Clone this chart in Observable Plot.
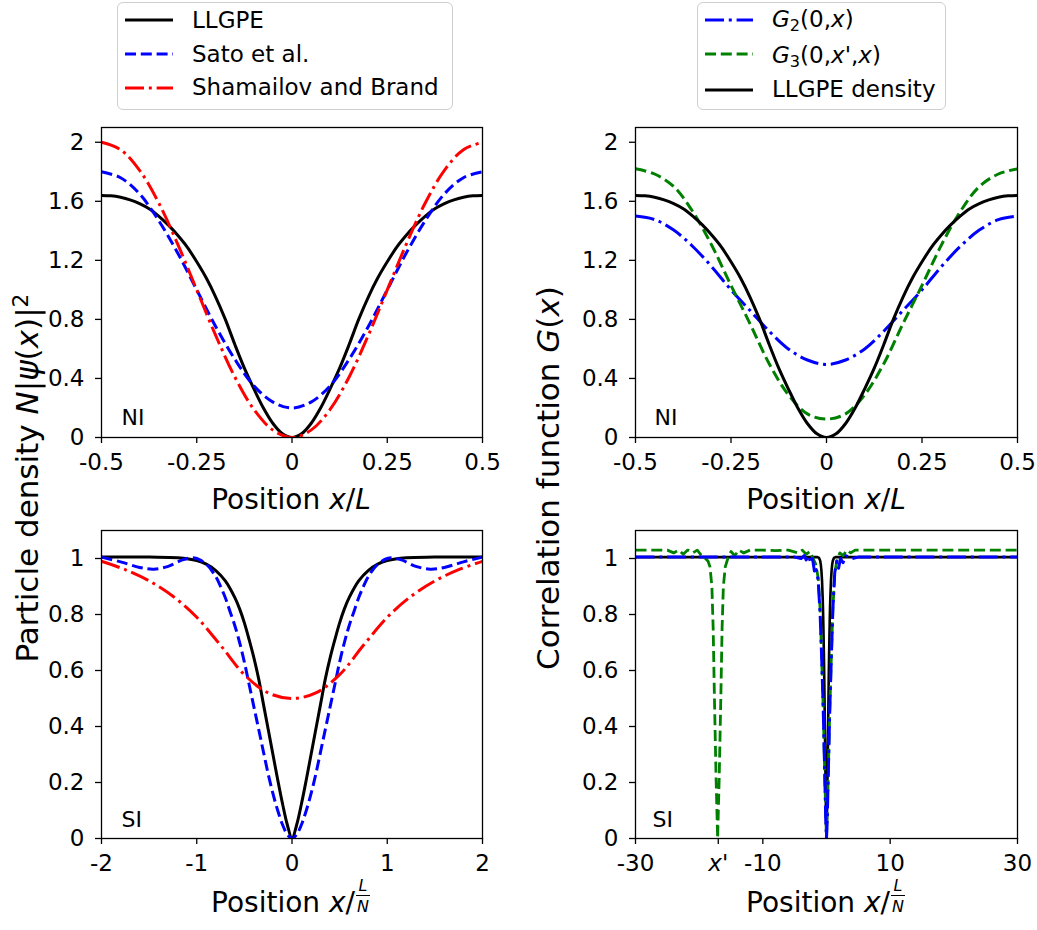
<!DOCTYPE html>
<html><head><meta charset="utf-8">
<script src="https://cdn.jsdelivr.net/npm/d3@7"></script>
<script src="https://cdn.jsdelivr.net/npm/@observablehq/plot@0.6"></script>
<style>
body{margin:0;background:#fff;}
#fig{position:relative;width:1037px;height:930px;background:#fff;font-family:"DejaVu Sans",sans-serif;color:#000;overflow:hidden}
.legend{position:absolute;border:1px solid #cfcfcf;border-radius:6px;background:#fff;box-sizing:border-box}
.lt{position:absolute;font-size:23px;line-height:26px;white-space:nowrap}
.xl{position:absolute;width:400px;text-align:center;font-size:28px;line-height:28px;white-space:nowrap}
.yl{position:absolute;width:600px;height:34px;text-align:center;font-size:31px;line-height:34px;white-space:nowrap;transform:rotate(-90deg)}
.sub{font-size:0.7em;position:relative;top:0.25em}
.sup{font-size:0.7em;position:relative;top:-0.45em}
.frac{display:inline-block;position:relative;width:16px;height:10px;font-size:16px;line-height:16px}
.frac .n{position:absolute;left:0;top:-24px;width:16px;text-align:center}
.frac .d{position:absolute;left:0;top:-3px;width:16px;text-align:center}
.frac .bar{position:absolute;left:1px;top:-7px;width:14px;height:1px;background:#000}
</style></head><body><div id="fig"></div>
<script>
// ---------- data ----------
// NI regime, position x/L
const niX = [-0.5,-0.45,-0.4,-0.35,-0.3,-0.25,-0.2,-0.15,-0.1,-0.05,0,0.05,0.1,0.15,0.2,0.25,0.3,0.35,0.4,0.45,0.5];
const niXFine = [-0.5,-0.475,-0.45,-0.425,-0.4,-0.375,-0.35,-0.325,-0.3,-0.275,-0.25,-0.225,-0.2,-0.175,-0.15,-0.125,-0.1,-0.075,-0.05,-0.025,0,
                 0.025,0.05,0.075,0.1,0.125,0.15,0.175,0.2,0.225,0.25,0.275,0.3,0.325,0.35,0.375,0.4,0.425,0.45,0.475,0.5];
const llgpeNI = [1.64,1.637,1.627,1.61,1.585,1.55,1.50,1.44,1.37,1.29,1.19,1.08,0.95,0.80,0.63,0.47,0.33,0.20,0.095,0.025,0,
                 0.025,0.095,0.20,0.33,0.47,0.63,0.80,0.95,1.08,1.19,1.29,1.37,1.44,1.50,1.55,1.585,1.61,1.627,1.637,1.64];
const satoNI = [1.8,1.76,1.65,1.47,1.25,1.0,0.75,0.53,0.35,0.24,0.2,0.24,0.35,0.53,0.75,1.0,1.25,1.47,1.65,1.76,1.8];
const shamNI = [2.0,1.95,1.81,1.59,1.31,1.0,0.69,0.41,0.19,0.05,0,0.05,0.19,0.41,0.69,1.0,1.31,1.59,1.81,1.95,2.0];
const g2NI = [1.5,1.476,1.405,1.294,1.155,1.0,0.86,0.72,0.6,0.525,0.495,0.525,0.6,0.72,0.86,1.0,1.155,1.294,1.405,1.476,1.5];
const g3NI = [1.82,1.785,1.70,1.53,1.30,1.03,0.77,0.50,0.29,0.16,0.125,0.16,0.29,0.50,0.77,1.03,1.30,1.53,1.70,1.785,1.82];

// SI regime, position x/(L/N)
const siXBlack = [-2,-1.5,-1.2,-1,-0.9,-0.8,-0.7,-0.6,-0.55,-0.5,-0.45,-0.4,-0.35,-0.3,-0.25,-0.2,-0.15,-0.1,-0.05,0,
                  0.05,0.1,0.15,0.2,0.25,0.3,0.35,0.4,0.45,0.5,0.55,0.6,0.7,0.8,0.9,1,1.2,1.5,2];
const llgpeSI = [1.005,1.005,1.003,0.993,0.98,0.957,0.92,0.86,0.82,0.77,0.71,0.645,0.57,0.48,0.39,0.30,0.21,0.125,0.05,0,
                 0.05,0.125,0.21,0.30,0.39,0.48,0.57,0.645,0.71,0.77,0.82,0.86,0.92,0.957,0.98,0.993,1.003,1.005,1.005];
const siXBlue = [-2,-1.8,-1.6,-1.45,-1.3,-1.15,-1.05,-1,-0.9,-0.8,-0.75,-0.7,-0.65,-0.6,-0.55,-0.5,-0.45,-0.4,-0.35,-0.3,-0.25,-0.2,-0.15,-0.1,-0.05,0,
                 0.05,0.1,0.15,0.2,0.25,0.3,0.35,0.4,0.45,0.5,0.55,0.6,0.65,0.7,0.75,0.8,0.9,1,1.05,1.15,1.3,1.45,1.6,1.8,2];
const satoSI = [1.005,0.988,0.968,0.962,0.972,0.995,1.003,1.0,0.98,0.935,0.90,0.86,0.81,0.76,0.70,0.63,0.55,0.47,0.39,0.31,0.23,0.16,0.10,0.05,0.015,0,
                0.015,0.05,0.10,0.16,0.23,0.31,0.39,0.47,0.55,0.63,0.70,0.76,0.81,0.86,0.90,0.935,0.98,1.0,1.003,0.995,0.972,0.962,0.968,0.988,1.005];
const siXRed = [-2,-1.75,-1.5,-1.25,-1,-0.75,-0.5,-0.25,0,0.25,0.5,0.75,1,1.25,1.5,1.75,2];
const shamSI = [0.99,0.96,0.92,0.865,0.79,0.69,0.585,0.52,0.5,0.52,0.585,0.69,0.79,0.865,0.92,0.96,0.99];

// SI correlation functions, wide window
const g2SIX = [-30,-20,-10,-5,-4,-3.5,-3.2,-2.8,-2.5,-2.2,-1.9,-1.6,-1.3,-1.0,-0.75,-0.5,-0.3,-0.12,0,
               0.12,0.3,0.5,0.75,1.0,1.3,1.6,1.9,2.2,2.6,3,4,5,10,20,30];
const g2SI  = [1.005,1.005,1.005,1.005,1.0,1.01,0.995,1.01,0.985,1.0,0.955,0.96,0.92,0.80,0.64,0.45,0.25,0.07,0,
               0.07,0.25,0.45,0.64,0.82,0.95,0.99,0.965,1.0,0.985,1.01,1.0,1.005,1.005,1.005,1.005];
const g3SIX = [-30,-25,-24,-23.2,-22.5,-21.8,-21,-20.3,-19.6,-19,
               -18.6,-18.3,-18,-17.8,-17.6,-17.35,-17.1,-16.85,-16.6,-16.4,
               -16.2,-15.9,-15.5,-15,-14.4,-13.8,-13,-12,-10,-8,
               -6,-4.5,-3.8,-3.2,-2.6,-2.1,-1.7,-1.3,-1.0,-0.75,
               -0.5,-0.25,0,0.25,0.5,0.75,1.0,1.3,1.7,2.1,
               2.6,3.2,3.8,4.5,6,10,20,30];
const g3SI  = [1.03,1.03,1.02,1.03,1.015,1.03,1.02,1.03,1.01,1.0,
               0.99,0.97,0.9,0.75,0.5,0.22,0,0.22,0.5,0.75,
               0.9,0.97,1.0,1.025,1.01,1.03,1.02,1.03,1.03,1.028,
               1.03,1.02,1.03,1.015,1.025,1.0,0.98,0.93,0.82,0.64,
               0.45,0.2,0,0.2,0.45,0.64,0.82,0.95,1.0,1.02,
               1.01,1.03,1.02,1.03,1.03,1.03,1.03,1.03];

// ticks
const niXTicks = [-0.5,-0.25,0,0.25,0.5];
const niXLabels = ["-0.5","-0.25","0","0.25","0.5"];
const niYTicks = [0,0.4,0.8,1.2,1.6,2];
const niYLabels = ["0","0.4","0.8","1.2","1.6","2"];
const siXTicks = [-2,-1,0,1,2];
const siXLabels = ["-2","-1","0","1","2"];
const siYTicks = [0,0.2,0.4,0.6,0.8,1];
const siYLabels = ["0","0.2","0.4","0.6","0.8","1"];
const brXTicks = [-30,-10,10,30];
const brXLabels = ["-30","-10","10","30"];
const brPrimeTick = [-17];

// styles
const DASH = "11,4.8";
const DASHDOT = "19,4.8,3,4.8";
const BLUE = "#0000ff", RED = "#ff0000", GREEN = "#008000", BLACK = "#000000";
const TICKFONT = 23;

const fig = document.getElementById("fig");

function panel(o) {
  const marks = [];
  for (const s of o.series) {
    const data = s.x.map((x, i) => ({x, y: s.y[i]}));
    marks.push(Plot.line(data, {x: "x", y: "y", stroke: s.color, strokeWidth: s.width || 3,
      strokeDasharray: s.dash, strokeLinecap: "butt", strokeLinejoin: "round",
      curve: o.curve, clip: true}));
  }
  marks.push(Plot.frame({stroke: "black", strokeWidth: 1.3}));
  marks.push(Plot.axisX({ticks: o.xTicks, tickFormat: d => o.xLabels[o.xTicks.indexOf(d)],
    tickSize: 6, tickPadding: 10, fontSize: TICKFONT, strokeWidth: 1.3, label: null}));
  if (o.extraX) marks.push(Plot.axisX({ticks: o.extraX, tickFormat: () => "x'", fontStyle: "italic",
    tickSize: 6, tickPadding: 10, fontSize: TICKFONT, strokeWidth: 1.3, label: null}));
  marks.push(Plot.axisY({ticks: o.yTicks, tickFormat: d => o.yLabels[o.yTicks.indexOf(d)],
    tickSize: 6, tickPadding: 11, fontSize: TICKFONT, strokeWidth: 1.3, label: null}));
  marks.push(Plot.text([o.tag], {frameAnchor: "bottom-left", text: d => d, dx: o.tagDx, dy: o.tagDy,
    textAnchor: "start", lineAnchor: "middle", fontSize: 22}));
  const svg = Plot.plot({
    width: o.width, height: o.height,
    marginLeft: o.ml, marginRight: o.mr, marginTop: o.mt, marginBottom: o.mb,
    x: {domain: o.xDomain}, y: {domain: o.yDomain},
    style: "font-family:'DejaVu Sans',sans-serif;background:transparent;overflow:visible;max-width:none;color:#000;",
    marks
  });
  svg.style.position = "absolute";
  svg.style.left = o.left + "px";
  svg.style.top = o.top + "px";
  fig.appendChild(svg);
}

panel({left: 0, top: 110, width: 500, height: 420, ml: 101, mr: 18, mt: 17, mb: 93,
  xDomain: [-0.5, 0.5], yDomain: [0, 2.1], xTicks: niXTicks, xLabels: niXLabels, yTicks: niYTicks, yLabels: niYLabels,
  curve: "catmull-rom", tag: "NI", tagDx: 20, tagDy: -20,
  series: [
    {x: niXFine, y: llgpeNI, color: BLACK},
    {x: niX, y: satoNI, color: BLUE, dash: DASH},
    {x: niX, y: shamNI, color: RED, dash: DASHDOT}
  ]});

panel({left: 520, top: 110, width: 517, height: 420, ml: 115, mr: 20, mt: 17, mb: 93,
  xDomain: [-0.5, 0.5], yDomain: [0, 2.1], xTicks: niXTicks, xLabels: niXLabels, yTicks: niYTicks, yLabels: niYLabels,
  curve: "catmull-rom", tag: "NI", tagDx: 19, tagDy: -20,
  series: [
    {x: niX, y: g2NI, color: BLUE, dash: DASHDOT},
    {x: niX, y: g3NI, color: GREEN, dash: DASH},
    {x: niXFine, y: llgpeNI, color: BLACK}
  ]});

panel({left: 0, top: 520, width: 500, height: 400, ml: 101, mr: 18, mt: 10, mb: 82,
  xDomain: [-2, 2], yDomain: [0, 1.1], xTicks: siXTicks, xLabels: siXLabels, yTicks: siYTicks, yLabels: siYLabels,
  curve: "catmull-rom", tag: "SI", tagDx: 20, tagDy: -19,
  series: [
    {x: siXBlack, y: llgpeSI, color: BLACK},
    {x: siXBlue, y: satoSI, color: BLUE, dash: DASH},
    {x: siXRed, y: shamSI, color: RED, dash: DASHDOT}
  ]});

panel({left: 520, top: 520, width: 517, height: 400, ml: 115, mr: 20, mt: 10, mb: 82,
  xDomain: [-30, 30], yDomain: [0, 1.1], xTicks: brXTicks, xLabels: brXLabels, extraX: brPrimeTick,
  yTicks: siYTicks, yLabels: siYLabels,
  curve: "linear", tag: "SI", tagDx: 17, tagDy: -19,
  series: [
    {x: [-30, ...siXBlack, 30], y: [1.005, ...llgpeSI, 1.005], color: BLACK, width: 2.6},
    {x: g3SIX, y: g3SI, color: GREEN, dash: DASH, width: 2.8},
    {x: g2SIX, y: g2SI, color: BLUE, dash: DASHDOT, width: 3}
  ]});

// ---------- legends ----------
function legend(box, rows) {
  const b = document.createElement("div");
  b.className = "legend";
  Object.assign(b.style, {left: box.left + "px", top: box.top + "px", width: box.width + "px", height: box.height + "px"});
  fig.appendChild(b);
  for (const r of rows) {
    const ns = "http://www.w3.org/2000/svg";
    const s = document.createElementNS(ns, "svg");
    s.setAttribute("width", 50); s.setAttribute("height", 10);
    Object.assign(s.style, {position: "absolute", left: box.lineX + "px", top: (r.y - 5) + "px"});
    const l = document.createElementNS(ns, "line");
    l.setAttribute("x1", 0); l.setAttribute("x2", 48); l.setAttribute("y1", 5); l.setAttribute("y2", 5);
    l.setAttribute("stroke", r.color); l.setAttribute("stroke-width", 3);
    if (r.dash) l.setAttribute("stroke-dasharray", r.dash);
    s.appendChild(l);
    fig.appendChild(s);
    const t = document.createElement("div");
    t.className = "lt";
    t.innerHTML = r.html;
    Object.assign(t.style, {left: box.textX + "px", top: (r.ty - 14) + "px"});
    fig.appendChild(t);
  }
}
legend({left: 117, top: 2, width: 336, height: 108, lineX: 125, textX: 192}, [
  {y: 20, ty: 21, color: BLACK, html: "LLGPE"},
  {y: 54, ty: 55, color: BLUE, dash: DASH, html: "Sato et al."},
  {y: 88, ty: 88, color: RED, dash: DASHDOT, html: "Shamailov and Brand"}
]);
legend({left: 697, top: 2, width: 249, height: 108, lineX: 705, textX: 772}, [
  {y: 20, ty: 20, color: BLUE, dash: DASHDOT, html: "<i>G</i><span class='sub'>2</span>(0,<i>x</i>)"},
  {y: 54, ty: 56, color: GREEN, dash: DASH, html: "<i>G</i><span class='sub'>3</span>(0,<i>x</i>',<i>x</i>)"},
  {y: 90, ty: 90, color: BLACK, html: "LLGPE density"}
]);

// ---------- axis titles ----------
function xlabel(cx, baseline, html) {
  const d = document.createElement("div");
  d.className = "xl";
  d.innerHTML = html;
  Object.assign(d.style, {left: (cx - 200) + "px", top: (baseline - 24) + "px"});
  fig.appendChild(d);
}
const fracLN = "<span class='frac'><i class='n'>L</i><span class='bar'></span><i class='d'>N</i></span>";
xlabel(291, 510, "Position <i>x</i>/<i>L</i>");
xlabel(826, 510, "Position <i>x</i>/<i>L</i>");
xlabel(291, 913, "Position <i>x</i>/" + fracLN);
xlabel(826, 913, "Position <i>x</i>/" + fracLN);

function ylabel(cx, cy, html) {
  const d = document.createElement("div");
  d.className = "yl";
  d.innerHTML = html;
  Object.assign(d.style, {left: (cx - 300) + "px", top: (cy - 17) + "px"});
  fig.appendChild(d);
}
ylabel(27, 478, "Particle density <i>N</i>|<i>ψ</i>(<i>x</i>)|<span class='sup'>2</span>");
ylabel(548, 478, "Correlation function <i>G</i>(<i>x</i>)");
</script></body></html>
